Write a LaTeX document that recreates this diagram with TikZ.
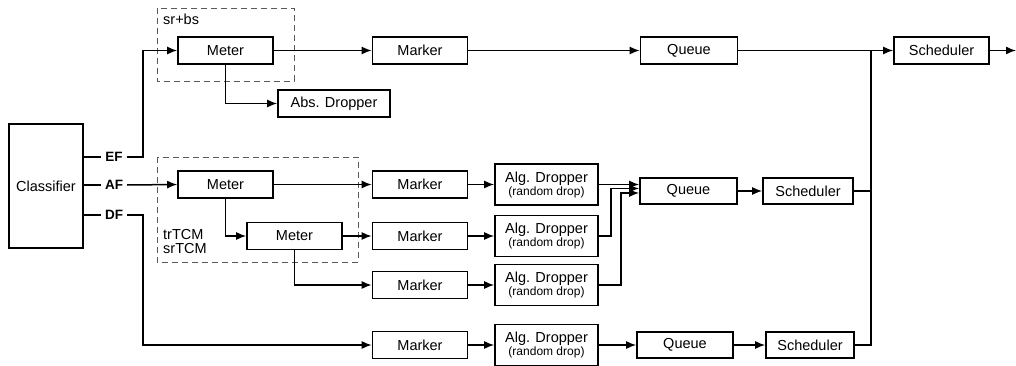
\documentclass[tikz,border=0pt]{standalone}
\usepackage{fontspec}
\setmainfont{Liberation Sans}
\usetikzlibrary{arrows.meta,calc}
\begin{document}
\begin{tikzpicture}[x=1pt,y=-1pt,
  font=\fontsize{14.5}{16}\selectfont,
  blk/.style={draw,line width=1.6pt,inner sep=0pt,minimum height=27pt},
  drp/.style={blk,minimum width=103pt,minimum height=41pt,align=center},
  lbl/.style={inner sep=4pt,font=\fontsize{13.5}{15}\selectfont\bfseries},
  arr/.style={line width=1.5pt,-{Latex[length=10pt,width=8pt]}},
  ln/.style={line width=1.5pt},
  dbox/.style={draw=black!65,line width=0.8pt,dash pattern=on 6pt off 4pt},
  rd/.style={font=\fontsize{12}{13}\selectfont}]
\useasboundingbox (0,0) rectangle (1016,366);
% dashed groups
\draw[dbox] (157,8) rectangle (294,81);
\draw[dbox] (157,157) rectangle (358,262);
\node[anchor=west,inner sep=0pt] (srbs) at (163,19) {sr+bs};
\node[anchor=west,inner sep=0pt,align=left] (tcm) at (163,241.5) {trTCM\\[-2pt]srTCM};
% classifier
\node[blk,minimum width=74pt,minimum height=124pt] (cls) at (46,186) {Classifier};
\node[lbl] (ef) at (114,157) {EF};
\node[lbl] (af) at (114,185) {AF};
\node[lbl] (df) at (114,215) {DF};
\coordinate (jef) at (143,157);
\coordinate (jdf) at (143,215);
% top row
\node[blk,minimum width=95pt] (m1) at (225.5,50.5) {Meter};
\node[blk,minimum width=112pt] (abs) at (334,103.5) {Abs. Dropper};
\node[blk,minimum width=95pt] (mk1) at (420,50.5) {Marker};
\node[blk,minimum width=97pt] (q1) at (689,50.5) {Queue};
\node[blk,minimum width=95pt] (st) at (941.5,50.5) {Scheduler};
\coordinate (out) at (1016,50.5);
\coordinate (mtop) at (871,50.5);
% AF rows
\node[blk,minimum width=95pt] (m2) at (225.5,184.5) {Meter};
\node[blk,minimum width=95pt] (m3) at (294.5,236) {Meter};
\node[blk,minimum width=95pt] (mka) at (420,184.5) {Marker};
\node[blk,minimum width=95pt] (mkb) at (420,236) {Marker};
\node[blk,minimum width=95pt] (mkc) at (420,285) {Marker};
\node[drp] (da) at (546.5,184.5) {Alg. Dropper\\[-3pt]{\fontsize{12}{13}\selectfont(random drop)}};
\node[drp] (db) at (546.5,236) {Alg. Dropper\\[-3pt]{\fontsize{12}{13}\selectfont(random drop)}};
\node[drp] (dc) at (546.5,285) {Alg. Dropper\\[-3pt]{\fontsize{12}{13}\selectfont(random drop)}};
\node[blk,minimum width=97pt,minimum height=26pt] (qm) at (688.5,191) {Queue};
\node[blk,minimum width=90pt,minimum height=26pt] (sm) at (808,191) {Scheduler};
% DF row
\node[blk,minimum width=95pt] (mkd) at (420,345) {Marker};
\node[drp] (dd) at (546.5,345) {Alg. Dropper\\[-3pt]{\fontsize{12}{13}\selectfont(random drop)}};
\node[blk,minimum width=96pt,minimum height=26pt] (qb) at (685,345) {Queue};
\node[blk,minimum width=88pt,minimum height=26pt] (sb) at (810,345) {Scheduler};
% classifier outputs
\draw[ln] (cls.east |- ef.west) -- (ef.west);
\draw[ln] (cls.east |- af.west) -- (af.west);
\draw[ln] (cls.east |- df.west) -- (df.west);
\draw[arr] (ef.east) -- (jef) |- (m1.west);
\draw[arr] (af.east) -- (m2.west);
\draw[arr] (df.east) -- (jdf) |- (mkd.west);
% top row
\draw[arr] (m1.south) |- (abs.west);
\draw[arr] (m1) -- (mk1);
\draw[arr] (mk1) -- (q1);
\draw[arr] (q1) -- (st);
\draw[arr] (st) -- (out);
% AF
\draw[arr] (m2.south) |- (m3.west);
\draw[arr] (m2) -- (mka);
\draw[arr] (m3) -- (mkb);
\draw[arr] (m3.south) |- (mkc.west);
\draw[arr] (mka) -- (da);
\draw[arr] (mkb) -- (db);
\draw[arr] (mkc) -- (dc);
\draw[arr] (da.east) -- (da.east -| qm.west);
\draw[arr] (db.east) -| ($(qm.west)+(-28,-2.5)$) -- ($(qm.west)+(0,-2.5)$);
\draw[arr] (dc.east) -| ($(qm.west)+(-18,2)$) -- ($(qm.west)+(0,2)$);
\draw[arr] (qm) -- (sm);
% DF
\draw[arr] (mkd) -- (dd);
\draw[arr] (dd) -- (qb);
\draw[arr] (qb) -- (sb);
% merge to top scheduler
\draw[ln] (sb.east) -| (mtop);
\draw[ln] (sm.east) -- (sm.east -| mtop);
\end{tikzpicture}
\end{document}
